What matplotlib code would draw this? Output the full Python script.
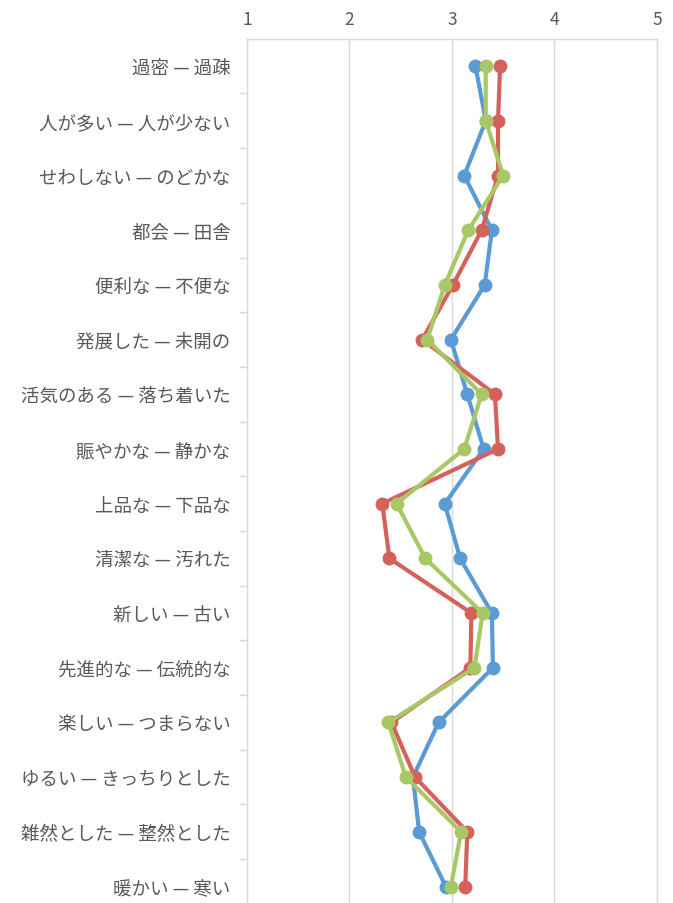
import numpy as np
import matplotlib
matplotlib.use("Agg")
import matplotlib.pyplot as plt

plt.rcParams['font.family'] = ['Noto Sans CJK JP', 'DejaVu Sans']

# 形容詞対（上から順に）
labels = [
    "過密 — 過疎",
    "人が多い — 人が少ない",
    "せわしない — のどかな",
    "都会 — 田舎",
    "便利な — 不便な",
    "発展した — 未開の",
    "活気のある — 落ち着いた",
    "賑やかな — 静かな",
    "上品な — 下品な",
    "清潔な — 汚れた",
    "新しい — 古い",
    "先進的な — 伝統的な",
    "楽しい — つまらない",
    "ゆるい — きっちりとした",
    "雑然とした — 整然とした",
    "暖かい — 寒い",
]

# 3グループの平均評定値
blue_vals = [3.23, 3.33, 3.12, 3.39, 3.32, 2.99, 3.15, 3.31,
             2.93, 3.08, 3.39, 3.40, 2.87, 2.62, 2.68, 2.94]
red_vals = [3.47, 3.45, 3.45, 3.29, 3.01, 2.71, 3.42, 3.45,
            2.32, 2.39, 3.19, 3.18, 2.41, 2.64, 3.15, 3.13]
green_vals = [3.33, 3.33, 3.50, 3.16, 2.93, 2.76, 3.29, 3.12,
              2.46, 2.74, 3.30, 3.22, 2.38, 2.55, 3.09, 2.99]

xticks = [1, 2, 3, 4, 5]

fig = plt.figure(figsize=(6.73, 9.04), dpi=100)
ax = fig.add_axes([0.367, -0.012, 0.609, 0.968])

y = np.arange(len(labels))
ax.plot(blue_vals, y, color='#5B9BD5', lw=3, marker='o', ms=9, zorder=3)
ax.plot(red_vals, y, color='#D4625A', lw=3, marker='o', ms=9, zorder=4)
ax.plot(green_vals, y, color='#A8C866', lw=3, marker='o', ms=9, zorder=5)

ax.set_xlim(1, 5)
ax.set_ylim(len(labels) - 0.5, -0.5)

ax.xaxis.tick_top()
ax.set_xticks(xticks)
ax.set_xticklabels([str(v) for v in xticks])
ax.tick_params(axis='x', length=0, pad=8, labelsize=12.5, labelcolor='#595959')

ax.set_yticks(y)
ax.set_yticklabels(labels)
ax.set_yticks(np.arange(len(labels)) + 0.5, minor=True)
ax.tick_params(axis='y', which='major', length=0, pad=12, labelsize=13.3,
               labelcolor='#595959')
ax.tick_params(axis='y', which='minor', length=6, color='#D9D9D9', width=1)

ax.grid(axis='x', color='#D9D9D9', lw=1)
ax.set_axisbelow(True)
for side in ['top', 'left', 'right', 'bottom']:
    ax.spines[side].set_color('#D9D9D9')
    ax.spines[side].set_linewidth(1)

fig.savefig('out.png', dpi=100)
